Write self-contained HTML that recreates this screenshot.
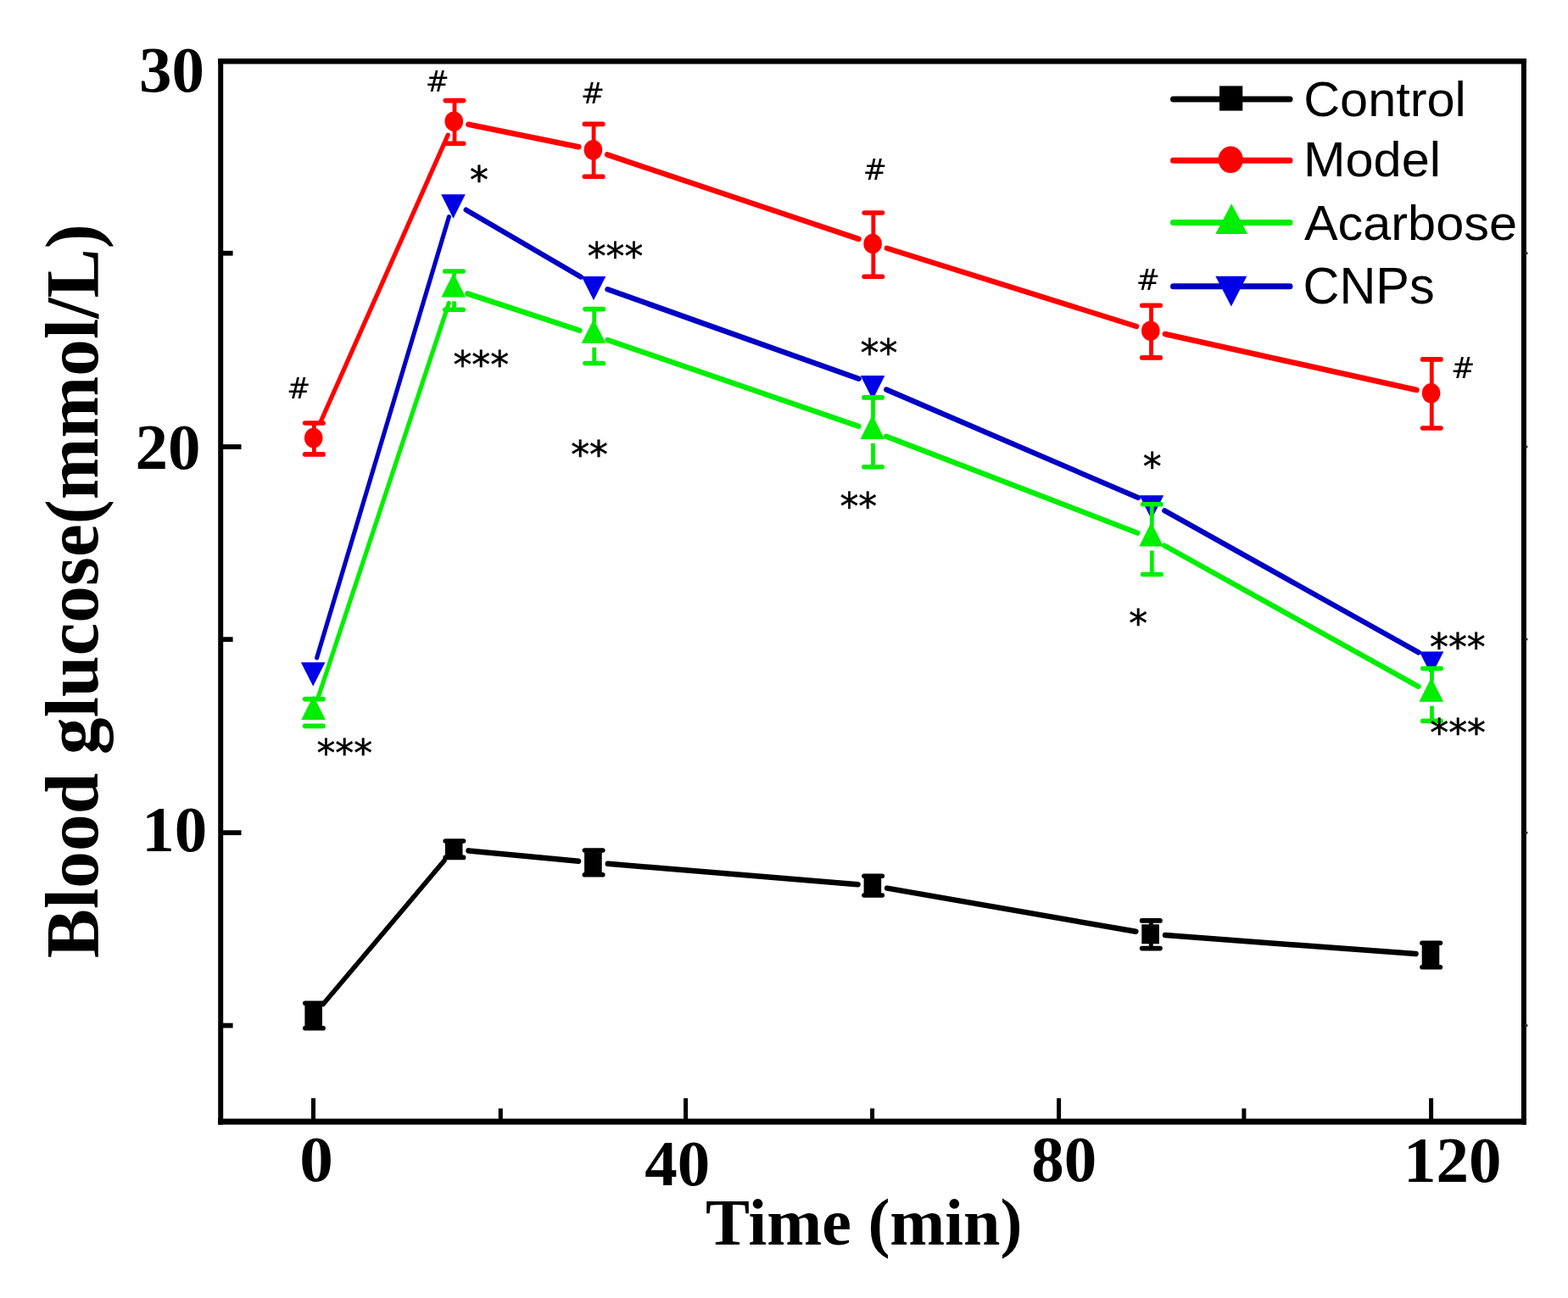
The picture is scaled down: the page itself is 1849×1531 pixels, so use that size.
<!DOCTYPE html>
<html><head><meta charset="utf-8"><title>Blood glucose</title><style>html,body{margin:0;padding:0;background:#fff}svg{display:block}</style></head><body>
<svg width="1849" height="1531" viewBox="0 0 1849 1531">
<rect width="1849" height="1531" fill="#fff"/>
<g>
<g stroke="#000" stroke-linecap="round"><line x1="381.0" y1="1184.5" x2="523.9" y2="1015.1" stroke-width="5.64"/><line x1="552.6" y1="1003.4" x2="682.0" y2="1015.7" stroke-width="6.54"/><line x1="716.8" y1="1018.8" x2="1011.5" y2="1043.2" stroke-width="6.54"/><line x1="1046.1" y1="1047.6" x2="1339.4" y2="1098.8" stroke-width="6.50"/><line x1="1374.1" y1="1103.1" x2="1669.5" y2="1125.1" stroke-width="6.54"/></g>
<g stroke="#000"><line x1="370.4" y1="1183.2" x2="370.4" y2="1212.8" stroke-width="4.8"/><line x1="359.8" y1="1183.2" x2="381.1" y2="1183.2" stroke-width="5.6" stroke-linecap="round"/><line x1="359.8" y1="1212.8" x2="381.1" y2="1212.8" stroke-width="5.6" stroke-linecap="round"/><line x1="535.9" y1="992.0" x2="535.9" y2="1011.4" stroke-width="4.8"/><line x1="525.2" y1="992.0" x2="546.6" y2="992.0" stroke-width="5.6" stroke-linecap="round"/><line x1="525.2" y1="1011.4" x2="546.6" y2="1011.4" stroke-width="5.6" stroke-linecap="round"/><line x1="700.1" y1="1003.0" x2="700.1" y2="1031.8" stroke-width="4.8"/><line x1="689.4" y1="1003.0" x2="710.8" y2="1003.0" stroke-width="5.6" stroke-linecap="round"/><line x1="689.4" y1="1031.8" x2="710.8" y2="1031.8" stroke-width="5.6" stroke-linecap="round"/><line x1="1029.6" y1="1033.2" x2="1029.6" y2="1056.0" stroke-width="4.8"/><line x1="1018.9" y1="1033.2" x2="1040.3" y2="1033.2" stroke-width="5.6" stroke-linecap="round"/><line x1="1018.9" y1="1056.0" x2="1040.3" y2="1056.0" stroke-width="5.6" stroke-linecap="round"/><line x1="1357.3" y1="1085.9" x2="1357.3" y2="1118.6" stroke-width="4.8"/><line x1="1346.6" y1="1085.9" x2="1368.0" y2="1085.9" stroke-width="5.6" stroke-linecap="round"/><line x1="1346.6" y1="1118.6" x2="1368.0" y2="1118.6" stroke-width="5.6" stroke-linecap="round"/><line x1="1687.7" y1="1112.2" x2="1687.7" y2="1140.7" stroke-width="4.8"/><line x1="1677.0" y1="1112.2" x2="1698.4" y2="1112.2" stroke-width="5.6" stroke-linecap="round"/><line x1="1677.0" y1="1140.7" x2="1698.4" y2="1140.7" stroke-width="5.6" stroke-linecap="round"/></g>
<g fill="#000"><rect x="359.4" y="1185.5" width="20.6" height="25.0"/><rect x="524.9" y="990.2" width="20.6" height="23.0"/><rect x="689.1" y="1005.3" width="20.6" height="24.2"/><rect x="1018.6" y="1033.1" width="20.6" height="23.0"/><rect x="1346.3" y="1090.3" width="20.6" height="23.0"/><rect x="1676.7" y="1114.5" width="20.6" height="23.9"/></g>
<g stroke="#ff0000" stroke-linecap="round"><line x1="377.8" y1="498.3" x2="528.2" y2="159.2" stroke-width="5.25"/><line x1="552.4" y1="146.7" x2="682.3" y2="173.3" stroke-width="6.49"/><line x1="716.0" y1="182.4" x2="1012.5" y2="281.9" stroke-width="6.39"/><line x1="1045.8" y1="292.7" x2="1340.1" y2="385.0" stroke-width="6.41"/><line x1="1373.9" y1="394.0" x2="1670.5" y2="460.0" stroke-width="6.48"/></g>
<g stroke="#ff0000"><line x1="370.4" y1="499.0" x2="370.4" y2="535.9" stroke-width="4.8"/><line x1="359.7" y1="499.0" x2="381.1" y2="499.0" stroke-width="5.6" stroke-linecap="round"/><line x1="359.7" y1="535.9" x2="381.1" y2="535.9" stroke-width="5.6" stroke-linecap="round"/><line x1="536.0" y1="118.6" x2="536.0" y2="169.3" stroke-width="4.8"/><line x1="525.3" y1="118.6" x2="546.7" y2="118.6" stroke-width="5.6" stroke-linecap="round"/><line x1="525.3" y1="169.3" x2="546.7" y2="169.3" stroke-width="5.6" stroke-linecap="round"/><line x1="700.1" y1="146.4" x2="700.1" y2="208.3" stroke-width="4.8"/><line x1="689.4" y1="146.4" x2="710.8" y2="146.4" stroke-width="5.6" stroke-linecap="round"/><line x1="689.4" y1="208.3" x2="710.8" y2="208.3" stroke-width="5.6" stroke-linecap="round"/><line x1="1029.8" y1="251.0" x2="1029.8" y2="326.2" stroke-width="4.8"/><line x1="1019.1" y1="251.0" x2="1040.5" y2="251.0" stroke-width="5.6" stroke-linecap="round"/><line x1="1019.1" y1="326.2" x2="1040.5" y2="326.2" stroke-width="5.6" stroke-linecap="round"/><line x1="1357.5" y1="360.2" x2="1357.5" y2="421.9" stroke-width="4.8"/><line x1="1346.8" y1="360.2" x2="1368.2" y2="360.2" stroke-width="5.6" stroke-linecap="round"/><line x1="1346.8" y1="421.9" x2="1368.2" y2="421.9" stroke-width="5.6" stroke-linecap="round"/><line x1="1688.3" y1="423.9" x2="1688.3" y2="505.0" stroke-width="4.8"/><line x1="1677.6" y1="423.9" x2="1699.0" y2="423.9" stroke-width="5.6" stroke-linecap="round"/><line x1="1677.6" y1="505.0" x2="1699.0" y2="505.0" stroke-width="5.6" stroke-linecap="round"/></g>
<g fill="#ff0000"><ellipse cx="369.7" cy="516.6" rx="10.8" ry="11.8"/><ellipse cx="535.3" cy="143.2" rx="10.8" ry="11.8"/><ellipse cx="699.4" cy="176.8" rx="10.8" ry="11.8"/><ellipse cx="1029.1" cy="287.5" rx="10.8" ry="11.8"/><ellipse cx="1356.8" cy="390.2" rx="10.8" ry="11.8"/><ellipse cx="1687.6" cy="463.8" rx="10.8" ry="11.8"/></g>
<g stroke="#0000c4" stroke-linecap="round"><line x1="373.6" y1="775.9" x2="529.5" y2="255.6" stroke-width="5.13"/><line x1="549.6" y1="247.6" x2="684.9" y2="326.6" stroke-width="6.16"/><line x1="716.5" y1="341.3" x2="1012.6" y2="446.7" stroke-width="6.38"/><line x1="1045.2" y1="459.5" x2="1341.8" y2="586.9" stroke-width="6.31"/><line x1="1373.2" y1="602.3" x2="1672.7" y2="769.5" stroke-width="6.18"/></g>
<g fill="#0000e6"><polygon points="354.9,781.2 383.5,781.2 369.2,809.6"/><polygon points="520.2,229.3 548.8,229.3 534.5,257.7"/><polygon points="685.7,325.9 714.3,325.9 700.0,354.3"/><polygon points="1014.8,443.1 1043.4,443.1 1029.1,471.5"/><polygon points="1343.6,584.3 1372.2,584.3 1357.9,612.7"/><polygon points="1673.7,768.5 1702.3,768.5 1688.0,796.9"/></g>
<g stroke="#00ee00" stroke-linecap="round"><line x1="375.1" y1="822.9" x2="529.3" y2="357.5" stroke-width="5.15"/><line x1="551.4" y1="346.4" x2="683.4" y2="389.8" stroke-width="6.40"/><line x1="716.5" y1="401.0" x2="1012.3" y2="502.7" stroke-width="6.39"/><line x1="1045.1" y1="514.7" x2="1341.3" y2="628.6" stroke-width="6.35"/><line x1="1372.9" y1="643.4" x2="1672.5" y2="809.7" stroke-width="6.18"/></g>
<g stroke="#00ee00"><line x1="370.3" y1="824.6" x2="370.3" y2="825.0" stroke-width="4.8"/><line x1="370.3" y1="854.0" x2="370.3" y2="856.4" stroke-width="4.8"/><line x1="359.6" y1="824.6" x2="381.0" y2="824.6" stroke-width="5.6" stroke-linecap="round"/><line x1="359.6" y1="856.4" x2="381.0" y2="856.4" stroke-width="5.6" stroke-linecap="round"/><line x1="535.5" y1="320.0" x2="535.5" y2="326.4" stroke-width="4.8"/><line x1="535.5" y1="355.4" x2="535.5" y2="365.3" stroke-width="4.8"/><line x1="524.8" y1="320.0" x2="546.2" y2="320.0" stroke-width="5.6" stroke-linecap="round"/><line x1="524.8" y1="365.3" x2="546.2" y2="365.3" stroke-width="5.6" stroke-linecap="round"/><line x1="700.7" y1="364.6" x2="700.7" y2="380.8" stroke-width="4.8"/><line x1="700.7" y1="409.8" x2="700.7" y2="428.5" stroke-width="4.8"/><line x1="690.0" y1="364.6" x2="711.4" y2="364.6" stroke-width="5.6" stroke-linecap="round"/><line x1="690.0" y1="428.5" x2="711.4" y2="428.5" stroke-width="5.6" stroke-linecap="round"/><line x1="1029.5" y1="468.9" x2="1029.5" y2="493.9" stroke-width="4.8"/><line x1="1029.5" y1="522.9" x2="1029.5" y2="550.7" stroke-width="4.8"/><line x1="1018.8" y1="468.9" x2="1040.2" y2="468.9" stroke-width="5.6" stroke-linecap="round"/><line x1="1018.8" y1="550.7" x2="1040.2" y2="550.7" stroke-width="5.6" stroke-linecap="round"/><line x1="1358.3" y1="594.8" x2="1358.3" y2="620.4" stroke-width="4.8"/><line x1="1358.3" y1="649.4" x2="1358.3" y2="677.5" stroke-width="4.8"/><line x1="1347.6" y1="594.8" x2="1369.0" y2="594.8" stroke-width="5.6" stroke-linecap="round"/><line x1="1347.6" y1="677.5" x2="1369.0" y2="677.5" stroke-width="5.6" stroke-linecap="round"/><line x1="1688.5" y1="788.5" x2="1688.5" y2="803.7" stroke-width="4.8"/><line x1="1688.5" y1="832.7" x2="1688.5" y2="850.4" stroke-width="4.8"/><line x1="1677.8" y1="788.5" x2="1699.2" y2="788.5" stroke-width="5.6" stroke-linecap="round"/><line x1="1677.8" y1="850.4" x2="1699.2" y2="850.4" stroke-width="5.6" stroke-linecap="round"/></g>
<g fill="#00ee00"><polygon points="369.6,820.6 383.9,849.0 355.3,849.0"/><polygon points="534.8,322.0 549.1,350.4 520.5,350.4"/><polygon points="700.0,376.4 714.3,404.8 685.7,404.8"/><polygon points="1028.8,489.5 1043.1,517.9 1014.5,517.9"/><polygon points="1357.6,616.0 1371.9,644.4 1343.3,644.4"/><polygon points="1687.8,799.3 1702.1,827.7 1673.5,827.7"/></g>
<g stroke="#000" fill="none">
<line x1="257.09999999999997" y1="72.2" x2="1800.0" y2="72.2" stroke-width="6.6"/>
<line x1="257.09999999999997" y1="1323.0" x2="1800.0" y2="1323.0" stroke-width="6.8"/>
<line x1="260.2" y1="68.9" x2="260.2" y2="1326.4" stroke-width="6.0"/>
<line x1="1796.9" y1="68.9" x2="1796.9" y2="1326.4" stroke-width="6.0"/>
</g>
<g stroke="#000" stroke-width="5"><line x1="369.5" y1="1323.0" x2="369.5" y2="1295.3"/><line x1="808.6" y1="1323.0" x2="808.6" y2="1295.3"/><line x1="1248.6" y1="1323.0" x2="1248.6" y2="1295.3"/><line x1="1687.6" y1="1323.0" x2="1687.6" y2="1295.3"/><line x1="590.3" y1="1323.0" x2="590.3" y2="1307.4"/><line x1="1028.6" y1="1323.0" x2="1028.6" y2="1307.4"/><line x1="1466.9" y1="1323.0" x2="1466.9" y2="1307.4"/><line x1="260.2" y1="527.0" x2="284.5" y2="527.0" stroke-width="5.8"/><line x1="260.2" y1="982.2" x2="284.5" y2="982.2" stroke-width="5.8"/><line x1="260.2" y1="298.7" x2="274.6" y2="298.7" stroke-width="5.8"/><line x1="260.2" y1="754.2" x2="274.6" y2="754.2" stroke-width="5.8"/><line x1="260.2" y1="1209.6" x2="274.6" y2="1209.6" stroke-width="5.8"/></g>
<g stroke="#222" stroke-width="2.6"><line x1="1798" y1="298.7" x2="1801.4" y2="298.7"/><line x1="1798" y1="527.0" x2="1801.4" y2="527.0"/><line x1="1798" y1="754.0" x2="1801.4" y2="754.0"/><line x1="1798" y1="982.2" x2="1801.4" y2="982.2"/><line x1="1798" y1="1209.6" x2="1801.4" y2="1209.6"/></g>
<g font-family="'Liberation Serif','Times New Roman',serif" font-weight="bold" fill="#000">
<text x="164.0" y="108.0" font-size="77" text-anchor="start" >30</text>
<text x="159.5" y="552.8" font-size="77" text-anchor="start" >20</text>
<text x="167.3" y="1003.6" font-size="77" text-anchor="start" >10</text>
<text transform="translate(353.3,1393.2) scale(1.03,1)" font-size="77">0</text>
<text x="760.2" y="1398.4" font-size="77" text-anchor="start" >40</text>
<text x="1216.3" y="1393.4" font-size="77" text-anchor="start" >80</text>
<text x="1655.0" y="1393.6" font-size="77" text-anchor="start" >120</text>
<text x="832.0" y="1467.9" font-size="78" text-anchor="start" >Time (min)</text>
<text transform="translate(115,1130.2) rotate(-90)" font-size="88" textLength="866" lengthAdjust="spacingAndGlyphs">Blood glucose(mmol/L)</text>
</g>
<g font-family="'DejaVu Sans',sans-serif" fill="#000" stroke="#000" stroke-width="0.5">
<text x="338.2" y="470.2" font-size="33.4" stroke-width="0.15">#</text>
<text x="501.8" y="108.1" font-size="33.4" stroke-width="0.15">#</text>
<text x="684.9" y="121.6" font-size="33.4" stroke-width="0.15">#</text>
<text x="1017.8" y="211.7" font-size="33.4" stroke-width="0.15">#</text>
<text x="1339.8" y="341.8" font-size="33.4" stroke-width="0.15">#</text>
<text x="1711.3" y="445.9" font-size="33.4" stroke-width="0.15">#</text>
<text x="553.9" y="227.5" font-size="43.8">*</text>
<text x="692.7" y="317.7" font-size="43.8">***</text>
<text x="1014.6" y="432.3" font-size="43.8">**</text>
<text x="1347.8" y="566.0" font-size="43.8">*</text>
<text x="1686.0" y="778.9" font-size="43.8">***</text>
<text x="534.4" y="446.0" font-size="43.8">***</text>
<text x="673.2" y="552.2" font-size="43.8">**</text>
<text x="990.4" y="612.5" font-size="43.8">**</text>
<text x="1331.3" y="751.3" font-size="43.8">*</text>
<text x="1686.3" y="879.5" font-size="43.8">***</text>
<text x="373.4" y="904.3" font-size="43.8">***</text>
</g>
<g stroke-width="7.0" stroke-linecap="round">
<line x1="1383.5" y1="116.9" x2="1521.0" y2="116.9" stroke="#000"/>
<line x1="1383.5" y1="189.3" x2="1521.0" y2="189.3" stroke="#ff0000"/>
<line x1="1383.5" y1="262.6" x2="1521.0" y2="262.6" stroke="#00ee00"/>
<line x1="1383.5" y1="337.7" x2="1521.0" y2="337.7" stroke="#0000c4"/>
</g>
<rect x="1438.0" y="101.4" width="27.3" height="29.2" fill="#000"/>
<ellipse cx="1451.2" cy="188.3" rx="14.7" ry="15.7" fill="#ff0000"/>
<polygon points="1452.2,240.3 1471.2,276.1 1433.2,276.1" fill="#00ee00"/>
<polygon points="1433.3,325.7 1470.3,325.7 1451.9,361.6" fill="#0000e6"/>
<g font-family="'Liberation Sans',Arial,sans-serif" fill="#000" font-size="58">
<text transform="translate(1540.2,136.5) scale(1.025,1.0)" x="-2.96" y="0">Control</text>
<text transform="translate(1541.9,208.2) scale(1.025,1.0)" x="-4.76" y="0">Model</text>
<text transform="translate(1538.0,282.6) scale(1.025,1.0)" x="-0.12" y="0">Acarbose</text>
<text transform="translate(1539.5,357.9) scale(1.025,1.055)" x="-2.96" y="0">CNPs</text>
</g>
</g>
</svg>
</body></html>
